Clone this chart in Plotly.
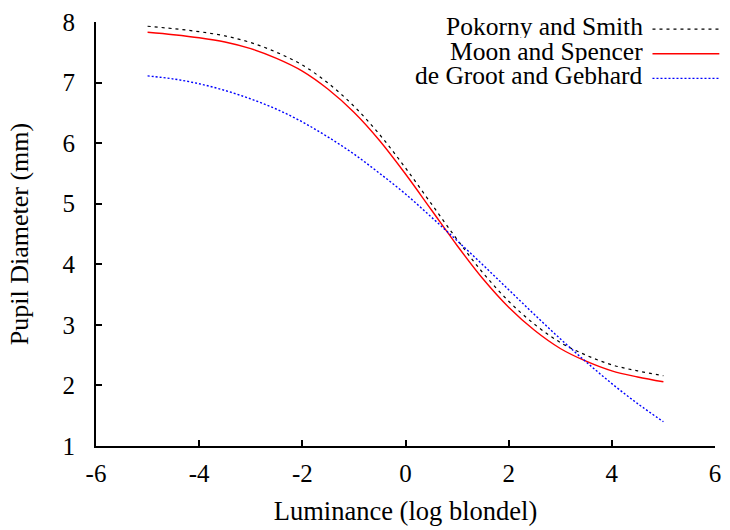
import plotly.graph_objects as go

luminance = [-5, -4.5, -4, -3.5, -3, -2.5, -2, -1.5, -1, -0.5, 0,
             0.5, 1, 1.5, 2, 2.5, 3, 3.5, 4, 4.5, 5]
pokorny_smith = [7.93, 7.89, 7.84, 7.77, 7.66, 7.50, 7.29, 6.99, 6.61, 6.14, 5.59,
                 5.00, 4.41, 3.86, 3.39, 3.01, 2.71, 2.50, 2.34, 2.24, 2.16]
moon_spencer = [7.83, 7.79, 7.74, 7.67, 7.56, 7.40, 7.19, 6.89, 6.51, 6.04, 5.49,
                4.90, 4.31, 3.76, 3.29, 2.91, 2.61, 2.40, 2.24, 2.14, 2.06]
degroot_gebhard = [7.11, 7.06, 6.98, 6.87, 6.73, 6.56, 6.35, 6.10, 5.82, 5.50, 5.16,
                   4.78, 4.39, 3.99, 3.58, 3.17, 2.77, 2.39, 2.03, 1.70, 1.40]

series_names = ["Pokorny and Smith", "Moon and Spencer", "de Groot and Gebhard"]
series_colors = ["#000000", "#ff0000", "#0000ff"]
series_dash = ["3px,4px", "solid", "2px,2px"]
series_width = [1.2, 1.4, 1.4]
series_data = [pokorny_smith, moon_spencer, degroot_gebhard]

x_ticks = [-6, -4, -2, 0, 2, 4, 6]
x_ticktext = ["-6", "-4", "-2", "0", "2", "4", "6"]
y_ticks = [1, 2, 3, 4, 5, 6, 7, 8]

FONT = "Liberation Serif"
FS = 25

fig = go.Figure()
for name, ys, c, d, w in zip(series_names, series_data, series_colors, series_dash, series_width):
    fig.add_trace(go.Scatter(x=luminance, y=ys, mode="lines", name=name,
                             line=dict(color=c, dash=d, width=w, shape="spline"),
                             showlegend=False))

# legend (text on left, sample on right, as in the reference)
row_y = [0.983, 0.925, 0.867]
for i, (name, c, d, w) in enumerate(zip(series_names, series_colors, series_dash, series_width)):
    fig.add_annotation(x=0.885, y=row_y[i], xref="paper", yref="paper",
                       text=name, showarrow=False, xanchor="right", yanchor="middle",
                       height=24, valign="middle", yshift=3, borderpad=0,
                       font=dict(family=FONT, size=25.5, color="black"))
    fig.add_shape(type="line", xref="paper", yref="paper",
                  x0=0.899, x1=1.007, y0=row_y[i], y1=row_y[i],
                  line=dict(color=c, dash=d, width=w))

fig.update_layout(
    width=730, height=530,
    margin=dict(l=96, r=9, t=16, b=83),
    paper_bgcolor="white", plot_bgcolor="white",
    font=dict(family=FONT, size=FS, color="black"),
    xaxis=dict(range=[-6, 6], tickvals=x_ticks, ticktext=x_ticktext,
               ticks="inside", ticklen=6, tickwidth=2, ticklabelstandoff=4,
               tickcolor="black", showline=True, linecolor="black", linewidth=2,
               showgrid=False, zeroline=False,
               title=dict(text="Luminance (log blondel)", standoff=15,
                          font=dict(family=FONT, size=26.5)),
               tickfont=dict(family=FONT, size=FS)),
    yaxis=dict(range=[1, 8], tickvals=y_ticks, ticks="inside", ticklen=6, tickwidth=2,
               ticklabelstandoff=14,
               tickcolor="black", showline=True, linecolor="black", linewidth=2,
               showgrid=False, zeroline=False,
               title=dict(text="Pupil Diameter (mm)", standoff=26,
                          font=dict(family=FONT, size=26)),
               tickfont=dict(family=FONT, size=FS)),
)

fig.write_html("out.html")
